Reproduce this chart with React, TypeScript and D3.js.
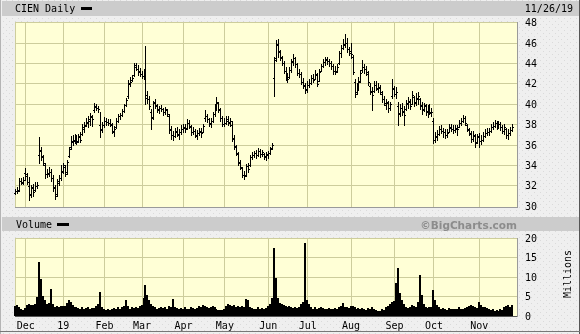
import React from "react";
import * as d3 from "d3";

// ---- Data: daily bars, Nov 26 2018 .. Nov 26 2019 ----
const priceHigh: number[] = [
  31.6,31.8,32.7,32.7,32.8,
  33.7,33.2,32.8,32.0,32.1,32.3,32.3,36.7,35.8,35.0,34.2,33.6,33.8,33.6,33.0,32.0,32.6,33.0,34.0,
  34.2,34.0,34.5,35.8,36.8,36.9,37.0,36.9,37.0,37.2,38.0,38.2,38.6,38.8,39.1,38.9,40.1,40.0,39.8,39.2,38.2,
  38.7,38.6,38.5,38.5,38.1,37.8,38.6,39.0,39.1,39.5,40.0,40.6,42.3,42.6,42.8,44.0,44.0,43.8,43.5,
  43.2,43.4,45.7,41.2,40.8,39.5,40.3,40.5,40.0,39.8,39.9,39.6,39.7,39.5,39.0,37.8,37.3,37.6,37.7,37.5,37.9,
  38.0,38.0,38.5,38.4,37.9,37.7,37.5,37.4,37.6,37.6,38.0,39.4,39.0,38.6,38.6,39.2,40.0,40.7,40.2,39.6,38.8,
  38.6,38.8,38.8,38.6,38.3,36.9,36.0,35.3,34.5,33.8,33.4,34.1,34.2,35.0,35.3,35.4,35.5,35.7,35.6,35.5,35.2,35.3,
  35.4,35.8,36.1,44.6,46.2,46.3,45.3,44.7,44.2,43.6,43.0,43.6,44.4,44.9,44.6,44.0,43.4,43.1,42.5,42.0,
  42.2,42.4,42.8,42.9,43.3,43.0,43.4,43.9,44.4,44.6,44.6,44.4,44.2,43.9,43.7,43.9,45.2,45.8,46.3,46.8,46.4,45.6,
  46.0,44.8,42.4,42.0,42.6,43.3,44.3,43.9,43.7,43.2,42.0,41.6,42.2,42.2,42.0,41.8,41.2,40.8,40.5,40.3,40.2,42.4,
  41.7,41.6,40.2,40.0,40.1,39.8,40.4,40.7,40.5,41.2,40.8,41.0,41.1,40.6,40.2,40.1,40.0,39.9,40.0,39.6,
  38.6,37.2,37.4,37.8,37.9,37.6,37.5,37.5,38.0,38.0,37.9,37.9,37.9,38.4,38.6,38.9,38.8,38.0,37.6,37.3,37.3,37.0,37.0,
  37.1,36.9,37.2,37.5,37.6,37.6,38.0,38.2,38.4,38.3,38.3,38.2,37.9,38.0,37.6,37.5,37.7,38.0,
];
const priceLow: number[] = [
  31.2,31.3,31.5,32.2,32.2,
  32.6,32.2,30.6,30.9,31.0,31.5,31.8,34.2,34.5,34.0,32.8,32.9,33.0,32.5,31.5,30.7,31.0,32.1,32.6,
  33.3,33.0,33.2,34.8,35.6,36.0,36.2,36.1,36.3,36.3,37.0,37.3,37.9,37.8,38.0,37.9,39.2,39.4,39.2,36.8,37.3,
  37.8,38.0,38.0,37.9,37.2,36.9,37.7,38.3,38.5,38.8,39.2,39.8,40.6,41.8,42.3,42.8,43.4,42.9,42.8,
  42.6,42.5,40.0,40.1,39.5,37.6,38.5,39.6,39.2,39.1,39.3,38.9,39.0,38.8,37.2,36.6,36.5,36.8,36.9,36.6,37.1,
  37.3,37.3,37.6,37.7,37.0,37.1,36.8,36.6,37.0,36.8,37.3,38.4,38.3,37.9,37.8,38.3,38.8,39.4,39.2,38.4,37.9,
  37.9,38.1,38.0,37.9,36.4,35.6,35.0,34.0,33.6,32.9,32.7,33.0,33.4,33.9,34.6,34.8,34.7,34.9,34.8,34.9,34.6,34.5,
  34.7,35.1,35.6,40.8,44.2,44.6,44.3,43.8,43.1,42.4,42.2,42.6,43.2,43.8,43.6,42.9,42.7,42.0,41.6,41.1,
  41.2,41.7,42.0,42.2,42.5,41.8,42.3,43.3,43.6,43.8,43.9,43.7,43.5,43.0,43.0,43.2,43.9,44.6,45.4,45.6,45.1,44.8,
  44.5,43.0,40.7,41.0,41.4,42.2,43.2,43.1,42.9,41.9,41.0,39.4,41.2,41.4,41.2,41.0,40.2,39.9,39.5,39.2,39.4,40.6,
  40.8,40.6,38.0,38.8,38.9,38.0,39.4,39.6,39.5,40.0,39.8,39.9,40.0,39.5,39.0,39.3,38.9,38.7,39.0,38.8,
  36.2,36.3,36.5,37.0,37.2,36.8,36.7,36.8,37.3,37.4,37.2,37.3,37.0,37.8,38.0,38.3,38.0,37.4,37.0,36.3,36.4,35.8,36.2,
  35.8,36.1,36.4,36.8,37.0,37.0,37.3,37.6,37.8,37.6,37.7,37.5,37.2,37.1,36.7,36.6,37.0,37.4,
];
const priceOpen: number[] = [
  31.3,31.5,31.6,32.5,32.3,
  33.3,33.0,32.0,31.1,31.9,31.6,32.0,35.0,35.4,34.8,34.0,33.2,33.2,33.4,32.8,31.9,31.2,32.3,32.8,
  33.4,33.8,33.4,34.9,35.8,36.3,36.4,36.7,36.4,36.9,37.1,37.6,38.0,38.2,38.4,38.7,39.4,39.8,39.6,38.0,37.5,
  38.0,38.4,38.3,38.2,38.0,37.3,37.8,38.4,38.8,38.9,39.3,39.9,40.8,42.1,42.4,42.9,43.8,43.5,43.3,
  43.0,42.8,43.5,40.9,40.5,39.2,38.7,40.2,39.9,39.4,39.6,39.5,39.2,39.4,38.8,37.5,37.0,36.9,37.4,37.0,37.3,
  37.6,37.8,37.7,38.2,37.8,37.3,37.4,36.9,37.2,37.4,37.3,38.6,38.8,38.5,38.1,38.4,39.0,39.8,40.1,39.4,38.6,
  38.1,38.2,38.5,38.2,38.0,36.6,35.8,35.1,34.3,33.7,33.1,33.1,33.9,34.0,34.8,35.0,35.2,35.0,35.4,35.1,35.1,34.8,
  35.0,35.2,35.7,42.6,44.5,45.9,45.1,44.6,44.0,43.3,42.8,42.7,43.4,44.1,44.5,43.9,43.1,43.0,42.2,41.8,
  41.5,41.9,42.1,42.6,42.5,42.9,42.3,43.3,43.7,44.1,44.4,44.2,44.0,43.7,43.3,43.3,44.0,45.0,45.5,45.9,46.0,45.4,
  45.2,44.6,42.2,41.2,41.8,42.3,43.4,43.6,43.5,43.0,41.8,41.2,41.3,41.9,41.5,41.6,41.0,40.5,39.9,40.1,39.6,40.8,
  41.5,41.0,39.8,39.1,39.6,39.2,39.5,40.0,40.2,40.0,40.7,40.1,40.5,40.5,39.9,39.4,39.8,39.2,39.5,39.1,
  38.4,36.5,36.8,37.1,37.6,37.4,37.3,37.0,37.3,37.8,37.6,37.5,37.6,37.8,38.2,38.4,38.6,38.0,37.5,37.1,36.6,36.9,36.3,
  36.9,36.4,36.5,36.9,37.2,37.3,37.4,37.8,37.9,38.2,37.9,38.1,37.8,37.4,37.6,37.0,37.2,37.5,
];
const priceClose: number[] = [
  31.5,31.5,32.5,32.4,32.6,
  33.2,32.4,31.2,31.8,31.4,32.0,32.1,35.5,34.9,34.2,33.2,33.3,33.4,32.8,31.8,31.0,32.5,32.8,33.5,
  34.0,33.2,34.3,35.6,36.4,36.5,36.6,36.3,36.8,36.5,37.8,37.9,38.3,38.5,38.8,38.5,39.7,39.6,39.5,37.6,38.0,
  38.4,38.3,38.2,38.1,37.4,37.6,38.4,38.8,38.9,39.3,39.9,40.4,42.0,42.2,42.6,43.6,43.5,43.2,43.0,
  42.8,43.2,40.6,40.5,39.8,38.6,40.1,39.8,39.5,39.6,39.5,39.2,39.5,39.0,37.6,37.0,36.9,37.3,37.1,37.3,37.6,
  37.7,37.6,38.2,37.9,37.3,37.4,37.0,37.2,37.3,37.2,37.9,38.8,38.5,38.2,38.4,39.0,39.8,40.2,39.5,38.6,38.1,
  38.2,38.4,38.3,38.4,36.7,35.9,35.2,34.2,33.8,33.1,33.0,33.9,33.6,34.8,35.0,35.2,35.0,35.4,35.1,35.3,34.9,35.1,
  35.2,35.6,36.0,44.3,45.8,45.2,44.5,44.0,43.3,42.8,42.5,43.4,44.2,44.5,43.9,43.1,43.0,42.2,41.9,41.4,
  41.9,42.1,42.6,42.4,43.0,42.0,43.2,43.7,44.1,44.3,44.2,44.0,43.7,43.3,43.2,43.6,45.0,45.5,45.8,46.0,45.4,45.0,
  44.9,43.2,41.0,41.8,42.2,43.1,43.6,43.5,43.2,42.2,41.3,40.9,41.9,41.6,41.7,41.2,40.5,40.1,40.2,39.6,40.0,41.6,
  41.0,41.2,39.0,39.6,39.3,38.9,40.1,40.3,39.8,40.9,40.2,40.6,40.8,39.8,39.5,39.9,39.3,39.6,39.2,39.2,
  36.5,36.9,37.1,37.6,37.4,37.3,37.0,37.2,37.7,37.6,37.5,37.7,37.6,38.2,38.4,38.6,38.2,37.6,37.2,36.6,37.0,36.2,36.8,
  36.4,36.5,36.9,37.2,37.3,37.4,37.8,37.9,38.2,37.9,38.1,37.8,37.4,37.8,37.0,37.2,37.5,37.8,
];
const volumeMillions: number[] = [
  2.6,2.8,2.2,1.8,1.6,
  2.0,2.7,3.0,2.8,2.9,3.2,5.0,13.9,9.5,5.2,4.0,3.0,3.3,6.8,3.2,2.3,2.5,2.4,2.5,
  2.6,2.5,3.4,4.0,3.6,2.8,2.4,2.2,2.0,1.8,2.2,1.8,2.0,2.2,1.7,2.0,2.1,2.6,3.2,6.2,2.2,
  1.8,1.6,1.7,1.5,1.9,2.0,1.8,2.2,1.7,2.2,2.6,4.1,2.5,1.9,2.4,2.0,2.4,2.0,2.6,
  2.8,4.5,7.9,5.5,4.0,3.0,2.5,2.2,1.8,2.0,2.3,2.0,2.4,1.9,2.6,2.2,4.3,2.4,2.0,1.8,2.0,
  1.9,2.2,1.9,1.7,2.3,2.0,1.8,2.0,2.5,2.4,2.8,2.6,2.2,2.0,2.4,2.6,2.2,1.8,1.6,1.5,1.6,
  1.8,2.6,3.0,2.8,2.6,2.8,2.3,2.5,2.2,2.6,2.4,4.3,4.2,2.4,2.0,1.8,1.9,2.3,1.8,2.0,1.8,2.1,
  2.6,3.2,4.5,17.4,9.8,4.5,3.4,3.0,2.8,2.5,2.3,2.6,2.4,2.0,2.2,2.0,2.4,3.0,3.6,18.6,
  4.2,3.0,2.4,1.9,2.2,1.8,2.0,2.3,2.0,1.7,1.8,2.0,1.9,1.8,2.1,1.9,2.3,2.6,3.3,2.4,2.2,2.0,
  2.5,2.6,2.4,1.8,2.0,1.9,2.1,1.8,1.6,2.0,1.7,2.2,1.8,1.6,1.4,1.3,1.9,1.6,2.2,2.6,3.0,3.6,
  3.9,8.5,12.2,5.8,4.0,3.0,2.4,2.0,2.4,2.8,2.6,2.3,3.5,10.5,5.5,3.2,2.2,2.0,2.2,2.4,
  6.7,4.2,2.8,2.2,1.8,2.0,1.7,1.6,2.0,1.8,1.9,1.7,1.8,2.2,1.9,1.7,2.0,2.3,2.6,2.8,2.6,2.4,2.0,
  3.7,2.8,2.4,2.2,2.0,1.8,1.6,1.7,1.4,1.5,1.3,1.8,1.6,2.2,2.6,2.8,2.2,2.9,
];
const monthLabels: string[] = ["Dec", "19", "Feb", "Mar", "Apr", "May", "Jun", "Jul", "Aug", "Sep", "Oct", "Nov"];
const monthStartIndex: number[] = [5, 24, 45, 64, 85, 106, 128, 148, 170, 192, 212, 235];
const priceTicks: number[] = [30, 32, 34, 36, 38, 40, 42, 44, 46, 48];
const volumeTicks: number[] = [0, 5, 10, 15, 20];

const FONT = "'DejaVu Sans Mono', monospace";
const GRID = "#cdcd9c";
const PLOT_BG = "#ffffd6";

export default function App() {
  const n = priceClose.length;
  const x = d3.scaleLinear().domain([0, n - 1]).range([15.84, 512.8]);
  const yP = d3.scaleLinear().domain([30, 48]).range([206.2, 22.6]);
  const yV = d3.scaleLinear().domain([0, 20]).range([316, 238]);

  const P = { l: 15, r: 517, t: 22, b: 207 };
  const V = { l: 15, r: 517, t: 238, b: 316 };

  const px = (i: number) => Math.floor(x(i));

  let barPath = "";
  for (let i = 0; i < n; i++) {
    const cx = px(i) + 0.5;
    const yh = Math.floor(yP(priceHigh[i]));
    let yl = Math.round(yP(priceLow[i]));
    if (yl <= yh) yl = yh + 1;
    const yo = Math.round(yP(priceOpen[i])) + 0.5;
    const yc = Math.round(yP(priceClose[i])) + 0.5;
    barPath += `M${cx},${yh}V${yl + 1}`;
    barPath += `M${px(i) - 1},${yo}h1`;
    barPath += `M${px(i) + 1},${yc}h1`;
  }

  let volPath = "";
  for (let i = 0; i < n; i++) {
    const x0 = px(i) - 1;
    const top = Math.round(yV(volumeMillions[i]));
    volPath += `M${x0},${V.b}V${top}h2V${V.b}Z`;
  }

  const gridX = monthStartIndex.map((m) => px(m) + 0.5);

  return (
    <svg
      width={580}
      height={334}
      viewBox="0 0 580 334"
      style={{ position: "fixed", left: 0, top: 0, display: "block" }}
      shapeRendering="crispEdges"
    >
      <defs>
        <pattern id="bgdots" width="6" height="6" patternUnits="userSpaceOnUse">
          <rect width="6" height="6" fill="#efefef" />
          <rect x="0" y="0" width="1" height="1" fill="#dadada" />
          <rect x="3" y="3" width="1" height="1" fill="#dadada" />
        </pattern>
      </defs>
      <rect x={0} y={0} width={580} height={334} fill="url(#bgdots)" />

      {/* header bars */}
      <rect x={2} y={1} width={577} height={15} fill="#cccccc" />
      <text x={15} y={12} fontFamily={FONT} fontSize={10} fill="#000">CIEN Daily</text>
      <rect x={81} y={7} width={11} height={3} fill="#000" />
      <text x={573} y={12} fontFamily={FONT} fontSize={10} fill="#000" textAnchor="end">11/26/19</text>

      <rect x={2} y={217} width={577} height={14} fill="#cccccc" />
      <text x={16} y={228} fontFamily={FONT} fontSize={10} fill="#000">Volume</text>
      <rect x={57} y={223} width={12} height={3} fill="#000" />
      <text
        x={517}
        y={228.5}
        fontFamily="'DejaVu Sans', Verdana, sans-serif"
        fontWeight="bold"
        fontSize={10.5}
        fill="#8c8c8c"
        textAnchor="end"
        shapeRendering="auto"
      >
        ©BigCharts.com
      </text>

      {/* price panel */}
      <rect x={P.l} y={P.t} width={P.r - P.l} height={P.b - P.t} fill={PLOT_BG} />
      {priceTicks.filter((v) => v > 30 && v < 48).map((v) => (
        <line key={"hp" + v} x1={P.l} x2={P.r} y1={Math.floor(yP(v)) + 0.5} y2={Math.floor(yP(v)) + 0.5} stroke={GRID} />
      ))}
      {gridX.map((gx, k) => (
        <line key={"vp" + k} x1={gx} x2={gx} y1={P.t} y2={P.b} stroke={GRID} />
      ))}
      <line x1={P.l} x2={P.r} y1={P.t + 0.5} y2={P.t + 0.5} stroke={GRID} />
      <line x1={P.l + 0.5} x2={P.l + 0.5} y1={P.t} y2={P.b} stroke={GRID} />
      <path d={barPath} stroke="#000" strokeWidth={1} fill="none" />
      <line x1={P.l} x2={P.r + 1} y1={P.b + 0.5} y2={P.b + 0.5} stroke="#9a9a9a" />
      <line x1={P.r + 0.5} x2={P.r + 0.5} y1={P.t} y2={P.b + 1} stroke="#9a9a9a" />

      {priceTicks.map((v) => (
        <text key={"pl" + v} x={525} y={yP(v)} dy="0.35em" fontFamily={FONT} fontSize={10} fill="#000">{v}</text>
      ))}

      {/* volume panel */}
      <rect x={V.l} y={V.t} width={V.r - V.l} height={V.b - V.t} fill={PLOT_BG} />
      {volumeTicks.filter((v) => v > 0 && v < 20).map((v) => (
        <line key={"hv" + v} x1={V.l} x2={V.r} y1={Math.floor(yV(v)) + 0.5} y2={Math.floor(yV(v)) + 0.5} stroke={GRID} />
      ))}
      {gridX.map((gx, k) => (
        <line key={"vv" + k} x1={gx} x2={gx} y1={V.t} y2={V.b} stroke={GRID} />
      ))}
      <line x1={V.l} x2={V.r} y1={V.t + 0.5} y2={V.t + 0.5} stroke={GRID} />
      <line x1={V.l + 0.5} x2={V.l + 0.5} y1={V.t} y2={V.b} stroke={GRID} />
      <path d={volPath} fill="#000" />
      <line x1={V.l} x2={V.r + 1} y1={V.b + 0.5} y2={V.b + 0.5} stroke="#555" />
      <line x1={V.r + 0.5} x2={V.r + 0.5} y1={V.t} y2={V.b + 1} stroke="#9a9a9a" />

      {volumeTicks.map((v) => (
        <text key={"vl" + v} x={525} y={yV(v)} dy="0.35em" fontFamily={FONT} fontSize={10} fill="#000">{v}</text>
      ))}
      <text
        transform="translate(571,274) rotate(-90)"
        textAnchor="middle"
        fontFamily={FONT}
        fontSize={10}
        fill="#000"
      >
        Millions
      </text>

      {/* month labels */}
      {monthLabels.map((m, k) => (
        <text key={"m" + k} x={x(monthStartIndex[k])} y={329} textAnchor="middle" fontFamily={FONT} fontSize={10} fill="#000">{m}</text>
      ))}

      {/* frame */}
      <line x1={0.5} x2={0.5} y1={0} y2={334} stroke="#b4b4b4" />
      <line x1={579.5} x2={579.5} y1={0} y2={334} stroke="#555" />
      <line x1={0} x2={580} y1={331.5} y2={331.5} stroke="#777" />
    </svg>
  );
}
